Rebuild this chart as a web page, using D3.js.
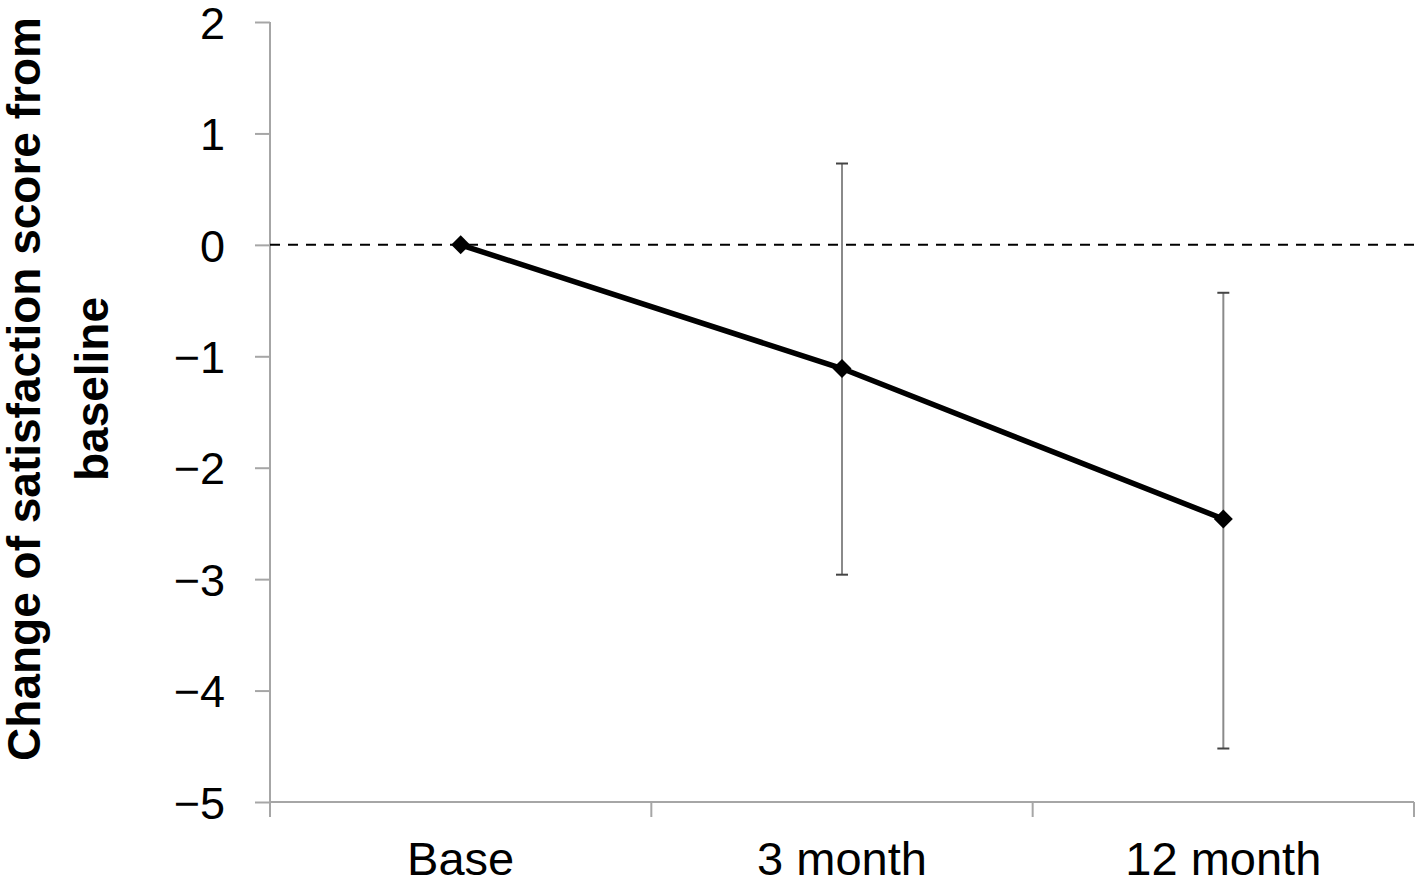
<!DOCTYPE html>
<html>
<head>
<meta charset="utf-8">
<script src="https://cdn.jsdelivr.net/npm/d3@7"></script>
<style>
  html, body { margin: 0; padding: 0; background: #fff; }
  svg { display: block; }
</style>
</head>
<body>
<svg id="chart" width="1418" height="882"></svg>
<script>
const categories = ["Base", "3 month", "12 month"];
const meanChange = [0, -1.11, -2.46];
const errUpper = [null, 0.73, -0.43];
const errLower = [null, -2.96, -4.52];
const yTicks = [2, 1, 0, -1, -2, -3, -4, -5];
const yTitleLines = ["Change of satisfaction score from", "baseline"];

const svg = d3.select("#chart");
const plotLeft = 270, plotRight = 1414, plotTop = 22, plotBottom = 802;

const x = d3.scaleBand().domain(categories).range([plotLeft, plotRight]).padding(0);
const y = d3.scaleLinear().domain([-5, 2]).range([plotBottom, plotTop]);
const cx = d => x(d) + x.bandwidth() / 2;

const axisColor = "#a6a6a6";
const font = "'Liberation Sans', Arial, sans-serif";

// Y axis
const yAxis = svg.append("g").attr("transform", `translate(${plotLeft},0)`)
  .call(d3.axisLeft(y).tickValues(yTicks).tickSize(15).tickPadding(30)
    .tickFormat(d => d < 0 ? "\u2212" + Math.abs(d) : String(d)));
yAxis.select(".domain").remove();
yAxis.selectAll(".tick line").attr("stroke", axisColor).attr("stroke-width", 2);
yAxis.selectAll(".tick text").attr("font-family", font).attr("font-size", 45)
  .attr("fill", "#000").attr("dy", "0.36em");
svg.append("line").attr("x1", plotLeft).attr("x2", plotLeft).attr("y1", plotTop).attr("y2", plotBottom + 15)
  .attr("stroke", axisColor).attr("stroke-width", 2);

// X axis
svg.append("line").attr("x1", plotLeft).attr("x2", plotRight).attr("y1", plotBottom).attr("y2", plotBottom)
  .attr("stroke", axisColor).attr("stroke-width", 2);
const bounds = categories.map(c => x(c)).concat([plotRight]);
svg.append("g").selectAll("line").data(bounds).join("line")
  .attr("x1", d => d).attr("x2", d => d).attr("y1", plotBottom).attr("y2", plotBottom + 15)
  .attr("stroke", axisColor).attr("stroke-width", 2);
svg.append("g").selectAll("text").data(categories).join("text")
  .attr("x", d => cx(d)).attr("y", 875)
  .attr("text-anchor", "middle").attr("font-family", font).attr("font-size", 47)
  .attr("fill", "#000").text(d => d);

// Zero reference line
svg.append("line").attr("x1", plotLeft).attr("x2", plotRight).attr("y1", y(0)).attr("y2", y(0))
  .attr("stroke", "#000").attr("stroke-width", 2).attr("stroke-dasharray", "10,8");

// Error bars
const eb = categories.map((c, i) => ({c, hi: errUpper[i], lo: errLower[i]})).filter(d => d.hi !== null);
const gE = svg.append("g");
gE.selectAll("line.v").data(eb).join("line").attr("class", "v")
  .attr("x1", d => cx(d.c)).attr("x2", d => cx(d.c))
  .attr("y1", d => y(d.hi)).attr("y2", d => y(d.lo))
  .attr("stroke", "#8a8a8a").attr("stroke-width", 2);
["hi", "lo"].forEach(k => {
  gE.selectAll("line.cap" + k).data(eb).join("line").attr("class", "cap" + k)
    .attr("x1", d => cx(d.c) - 6).attr("x2", d => cx(d.c) + 6)
    .attr("y1", d => y(d[k])).attr("y2", d => y(d[k]))
    .attr("stroke", "#444").attr("stroke-width", 2);
});

// Line
const pts = categories.map((c, i) => [cx(c), y(meanChange[i])]);
svg.append("path").attr("d", d3.line()(pts))
  .attr("fill", "none").attr("stroke", "#000").attr("stroke-width", 5.5);

// Markers
svg.append("g").selectAll("path").data(pts).join("path")
  .attr("d", d3.symbol().type(d3.symbolSquare).size(180)())
  .attr("transform", d => `translate(${d[0]},${d[1]}) rotate(45)`)
  .attr("fill", "#000");

// Y title
const t = svg.append("text").attr("transform", "translate(40,389) rotate(-90)")
  .attr("text-anchor", "middle").attr("font-family", font).attr("font-size", 46)
  .attr("font-weight", "bold").attr("fill", "#000");
t.selectAll("tspan").data(yTitleLines).join("tspan")
  .attr("x", 0).attr("dy", (d, i) => i === 0 ? 0 : 68).text(d => d);
</script>
</body>
</html>
